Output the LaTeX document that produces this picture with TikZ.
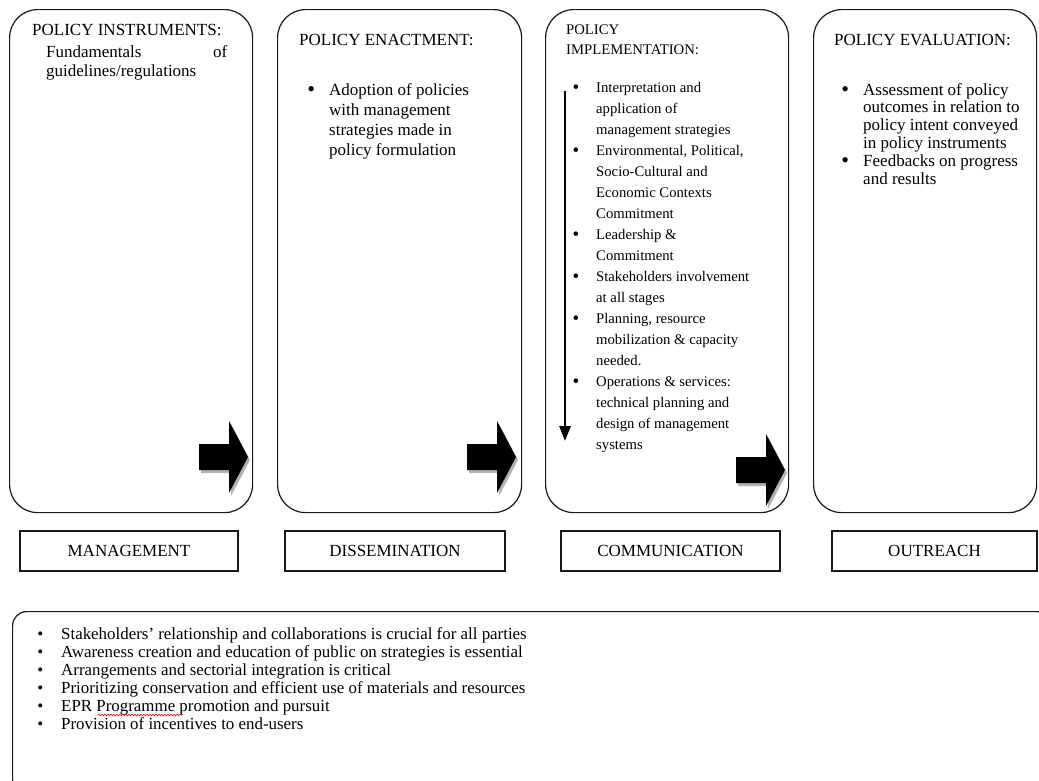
\documentclass[tikz,border=0pt]{standalone}
\usepackage{fontspec}
\setmainfont{Liberation Serif}
\usetikzlibrary{arrows.meta,decorations.pathmorphing}
\newcommand{\bul}[1]{\makebox[0pt][r]{\raisebox{-0.07em}{\scalebox{1.3}{\textbullet}}\hspace{#1}}}
\newcommand{\bulb}[1]{\makebox[0pt][r]{\textbullet\hspace{#1}}}
\begin{document}
\begin{tikzpicture}[x=1pt,y=-1pt,
  bigbox/.style={draw=black!90, line width=1.2pt, rounded corners=28pt, anchor=north west, inner sep=0pt, minimum height=503pt},
  lbl/.style={draw=black!90, line width=1.2pt, minimum height=40pt, inner sep=0pt, font=\fontsize{17}{20}\selectfont},
  hd/.style={anchor=north west, inner sep=0pt, align=left, font=\fontsize{17}{20}\selectfont},
  itm/.style={anchor=north west, inner sep=0pt, align=left, font=\fontsize{17}{20}\selectfont},
  itmc/.style={anchor=north west, inner sep=0pt, align=left, font=\fontsize{14.7}{21}\selectfont},
  itme/.style={anchor=north west, inner sep=0pt, align=left, font=\fontsize{17}{17.8}\selectfont},
  itmb/.style={anchor=north west, inner sep=0pt, align=left, font=\fontsize{16.9}{18}\selectfont},
  blockarr/.pic={
    \fill[black!30] (2,-10) -- (32,-10) -- (32,-33) -- (51,3) -- (32,39) -- (32,16) -- (2,16) -- cycle;
    \fill[black] (0,-13) -- (30,-13) -- (30,-36) -- (49,0) -- (30,36) -- (30,13) -- (0,13) -- cycle;
  }]
\useasboundingbox (0,0) rectangle (1039,780);
\fill[white] (0,0) rectangle (1039,780);

% four stage boxes
\node[bigbox, minimum width=243pt] (box1) at (9,9) {};
\node[bigbox, minimum width=244pt] (box2) at (277,9) {};
\node[bigbox, minimum width=243pt] (box3) at (545,9) {};
\node[bigbox, minimum width=223pt] (box4) at (813,9) {};

% box 1
\node[hd] (h1) at (32,24) {POLICY INSTRUMENTS:};
\node[itm, font=\fontsize{17}{19}\selectfont] (t1) at (46,45) {\hbox to 181pt{Fundamentals\hfill of}\\guidelines/regulations};

% box 2
\node[hd] (h2) at (299,34) {POLICY ENACTMENT:};
\node[itm] (t2) at (329,83) {\bul{14pt}Adoption of policies\\with management\\strategies made in\\policy formulation};

% box 3
\node[hd, font=\fontsize{14.7}{20}\selectfont] (h3) at (566,25) {POLICY\\IMPLEMENTATION:};
\node[itmc] (c1) at (596,82) {\bul{17pt}Interpretation and\\application of\\management strategies\\
\bul{17pt}Environmental, Political,\\Socio-Cultural and\\Economic Contexts\\Commitment\\
\bul{17pt}Leadership \&\\Commitment\\
\bul{17pt}Stakeholders involvement\\at all stages\\
\bul{17pt}Planning, resource\\mobilization \& capacity\\needed.\\
\bul{17pt}Operations \& services:\\technical planning and\\design of management\\systems};
\coordinate (vtop) at (565,91);
\coordinate (vbot) at (565,441);
\draw[line width=2.6pt, -{Triangle[length=15pt,width=11pt]}] (vtop) -- (vbot);

% box 4
\node[hd] (h4) at (834,34) {POLICY EVALUATION:};
\node[itme] (e1) at (863,83) {\bul{14pt}Assessment of policy\\outcomes in relation to\\policy intent conveyed\\in policy instruments\\
\bul{14pt}Feedbacks on progress\\and results};

% block arrows
\pic at (199,457) {blockarr};
\pic at (467,457) {blockarr};
\pic at (736,470) {blockarr};

% labels
\node[lbl, minimum width=218pt] (l1) at (129,551) {MANAGEMENT};
\node[lbl, minimum width=220pt] (l2) at (395,551) {DISSEMINATION};
\node[lbl, minimum width=219pt] (l3) at (670.5,551) {COMMUNICATION};
\node[lbl, minimum width=205pt] (l4) at (934.5,551) {OUTREACH};

% bottom notes
\node[draw=black!90, line width=1.2pt, rounded corners=14pt, anchor=north west, inner sep=0pt, minimum width=1038pt, minimum height=182pt] (notes) at (12,611) {};
\node[itmb] (n1) at (61,627) {\bulb{18pt}Stakeholders’ relationship and collaborations is crucial for all parties\\
\bulb{18pt}Awareness creation and education of public on strategies is essential\\
\bulb{18pt}Arrangements and sectorial integration is critical\\
\bulb{18pt}Prioritizing conservation and efficient use of materials and resources\\
\bulb{18pt}EPR Programme promotion and pursuit\\
\bulb{18pt}Provision of incentives to end-users};
\coordinate (sqa) at (98,715);
\coordinate (sqb) at (182,715);
\draw[red, line width=0.6pt, decorate, decoration={snake, amplitude=0.8pt, segment length=3pt}] (sqa) -- (sqb);
\end{tikzpicture}
\end{document}
